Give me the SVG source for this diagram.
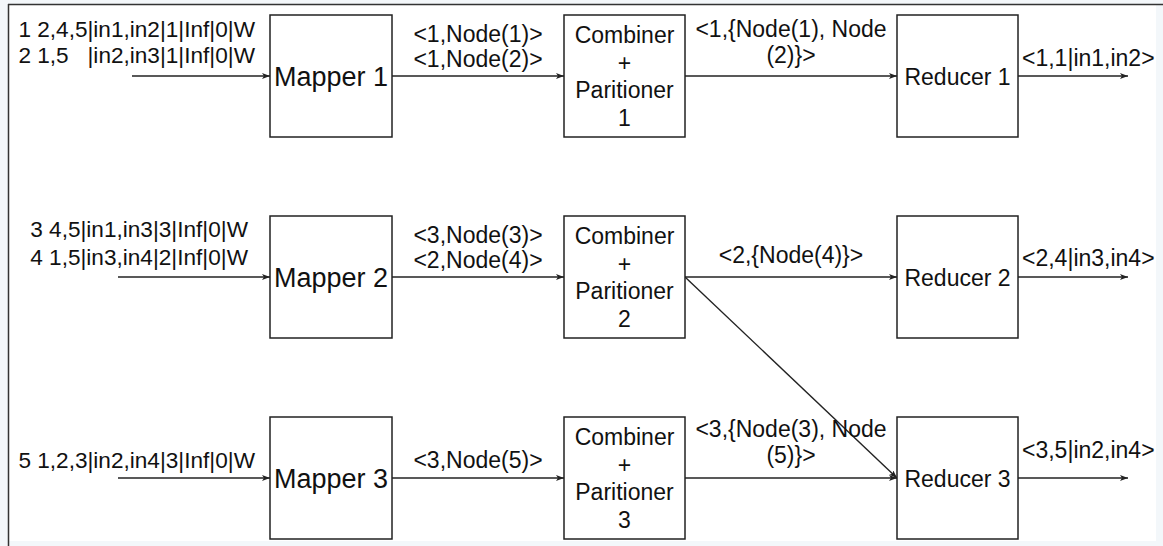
<svg xmlns="http://www.w3.org/2000/svg" width="1163" height="546" viewBox="0 0 1163 546">
<style>
.box{fill:#fff;stroke:#222;stroke-width:1.5}
.t{font-family:"Liberation Sans",Arial,sans-serif;font-size:23px;fill:#111}
.tm{font-family:"Liberation Sans",Arial,sans-serif;font-size:27px;fill:#111}
.ti{font-family:"Liberation Sans",Arial,sans-serif;font-size:22.6px;fill:#111;white-space:pre}
.e{stroke:#222;stroke-width:1.4;fill:none;marker-end:url(#ah)}
</style>
<defs>
<marker id="ah" markerWidth="10" markerHeight="8" refX="8" refY="3" orient="auto" markerUnits="userSpaceOnUse">
<path d="M0,0 L8,3 L0,6 L2,3 z" fill="#222"/>
</marker>
</defs>
<rect width="1163" height="546" fill="#f3f7fa"/>
<rect x="8" y="4" width="1148" height="537" fill="#fff"/>
<line x1="8" y1="4.5" x2="1163" y2="4.5" stroke="#333" stroke-width="1.5"/>
<line x1="8.5" y1="4" x2="8.5" y2="546" stroke="#333" stroke-width="1.5"/>

<g id="connectors">
<line class="e" x1="132" y1="76" x2="270" y2="76"/>
<line class="e" x1="392" y1="76" x2="564" y2="76"/>
<line class="e" x1="685" y1="76" x2="897" y2="76"/>
<line class="e" x1="1018" y1="76" x2="1128" y2="76"/>
<line class="e" x1="118" y1="277" x2="270" y2="277"/>
<line class="e" x1="392" y1="277" x2="564" y2="277"/>
<line class="e" x1="685" y1="277" x2="897" y2="277"/>
<line class="e" x1="1018" y1="277" x2="1128" y2="277"/>
<line class="e" x1="685" y1="277" x2="897" y2="478"/>
<line class="e" x1="118" y1="478" x2="270" y2="478"/>
<line class="e" x1="392" y1="478" x2="564" y2="478"/>
<line class="e" x1="685" y1="478" x2="897" y2="478"/>
<line class="e" x1="1018" y1="478" x2="1128" y2="478"/>
<g class="t" text-anchor="middle">
<text x="478" y="42">&lt;1,Node(1)&gt;</text>
<text x="478" y="67">&lt;1,Node(2)&gt;</text>
<text x="791" y="37">&lt;1,{Node(1), Node</text>
<text x="791" y="63">(2)}&gt;</text>
<text x="478" y="243">&lt;3,Node(3)&gt;</text>
<text x="478" y="268">&lt;2,Node(4)&gt;</text>
<text x="791" y="263">&lt;2,{Node(4)}&gt;</text>
<text x="478" y="468">&lt;3,Node(5)&gt;</text>
<text x="791" y="437">&lt;3,{Node(3), Node</text>
<text x="791" y="463">(5)}&gt;</text>
</g>
<g class="t">
<text x="1022" y="66">&lt;1,1|in1,in2&gt;</text>
<text x="1022" y="266">&lt;2,4|in3,in4&gt;</text>
<text x="1022" y="458">&lt;3,5|in2,in4&gt;</text>
</g>
<g class="ti" text-anchor="end">
<text x="255" y="37">1 2,4,5|in1,in2|1|Inf|0|W</text>
<text x="255" y="63" xml:space="preserve">2 1,5   |in2,in3|1|Inf|0|W</text>
<text x="248" y="237">3 4,5|in1,in3|3|Inf|0|W</text>
<text x="248" y="265">4 1,5|in3,in4|2|Inf|0|W</text>
<text x="255" y="468">5 1,2,3|in2,in4|3|Inf|0|W</text>
</g>
</g>

<g id="mapper1"><rect class="box" x="270" y="15" width="122" height="122"/><text class="tm" x="331" y="86" text-anchor="middle">Mapper 1</text></g>
<g id="mapper2"><rect class="box" x="270" y="216" width="122" height="122"/><text class="tm" x="331" y="287" text-anchor="middle">Mapper 2</text></g>
<g id="mapper3"><rect class="box" x="270" y="417" width="122" height="122"/><text class="tm" x="331" y="488" text-anchor="middle">Mapper 3</text></g>

<g id="combiner1" class="t" text-anchor="middle"><rect class="box" x="564" y="15" width="121" height="122"/>
<text x="624.5" y="43">Combiner</text><text x="624.5" y="71">+</text><text x="624.5" y="98">Paritioner</text><text x="624.5" y="126">1</text></g>
<g id="combiner2" class="t" text-anchor="middle"><rect class="box" x="564" y="216" width="121" height="122"/>
<text x="624.5" y="244">Combiner</text><text x="624.5" y="272">+</text><text x="624.5" y="299">Paritioner</text><text x="624.5" y="327">2</text></g>
<g id="combiner3" class="t" text-anchor="middle"><rect class="box" x="564" y="417" width="121" height="122"/>
<text x="624.5" y="445">Combiner</text><text x="624.5" y="473">+</text><text x="624.5" y="500">Paritioner</text><text x="624.5" y="528">3</text></g>

<g id="reducer1"><rect class="box" x="897" y="15" width="121" height="122"/><text class="t" x="957.5" y="85" text-anchor="middle">Reducer 1</text></g>
<g id="reducer2"><rect class="box" x="897" y="216" width="121" height="122"/><text class="t" x="957.5" y="286" text-anchor="middle">Reducer 2</text></g>
<g id="reducer3"><rect class="box" x="897" y="417" width="121" height="122"/><text class="t" x="957.5" y="487" text-anchor="middle">Reducer 3</text></g>
</svg>
